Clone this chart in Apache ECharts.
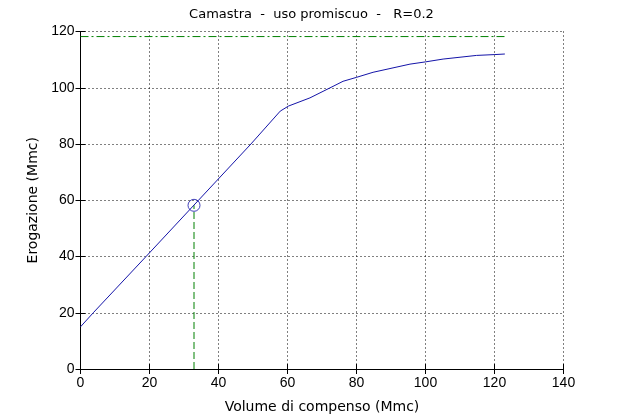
<!DOCTYPE html>
<html>
<head>
<meta charset="utf-8">
<script src="https://cdn.jsdelivr.net/npm/echarts@6/dist/echarts.min.js"></script>
<style>html,body{margin:0;padding:0;background:#fff;}#c{width:623px;height:419px;}</style>
</head>
<body>
<div id="c"></div>
<script>
var curveX = [0, 3.7, 19, 34.2, 49.4, 57.9, 60.3, 66.5, 73.2, 76.1, 80, 84.8, 95.5, 100, 105.1, 114.8, 120.1, 123];
var curveY = [15, 20, 40, 60, 80, 91.7, 93.5, 96.4, 100.5, 102.3, 103.7, 105.5, 108.4, 109.2, 110.2, 111.5, 111.8, 112];
var pointX = 32.9, pointY = 58.2;
var hLineY = 118.2, hLineXEnd = 123;
var xTicks = [0, 20, 40, 60, 80, 100, 120, 140];
var yTicks = [0, 20, 40, 60, 80, 100, 120];

var font = 'Liberation Sans, Arial, sans-serif';
var font2 = 'DejaVu Sans, sans-serif';
var chart = echarts.init(document.getElementById('c'), null, {renderer: 'canvas'});
var curve = curveX.map(function (x, i) { return [x, curveY[i]]; });
var axisBase = {
  min: 0, interval: 20,
  axisLine: {show: true, lineStyle: {color: '#000', width: 1}},
  axisTick: {show: true, inside: true, length: 5, lineStyle: {color: '#000'}},
  splitLine: {show: false}
};
chart.setOption({
  backgroundColor: '#fff',
  animation: false,
  title: {
    text: 'Camastra  -  uso promiscuo  -   R=0.2',
    left: 'center', top: 3,
    textStyle: {fontFamily: font2, fontSize: 13, fontWeight: 'normal', color: '#000'}
  },
  grid: {left: 80.5, top: 31.5, right: 59.5, bottom: 47, containLabel: false},
  xAxis: [
    Object.assign({}, axisBase, {
      type: 'value', max: 140, position: 'bottom',
      name: 'Volume di compenso (Mmc)', nameLocation: 'middle', nameGap: 31,
      nameTextStyle: {fontFamily: font2, fontSize: 14, color: '#000'},
      axisLabel: {fontFamily: font, fontSize: 14, color: '#000', margin: 7},
      splitLine: {show: true, lineStyle: {color: '#000', type: [1, 3], width: 1}}
    }),
    Object.assign({}, axisBase, {
      type: 'value', max: 140, position: 'top',
      axisLabel: {show: false}
    })
  ],
  yAxis: [
    Object.assign({}, axisBase, {
      type: 'value', max: 120, position: 'left',
      name: 'Erogazione (Mmc)', nameLocation: 'middle', nameGap: 40,
      nameTextStyle: {fontFamily: font2, fontSize: 14, color: '#000'},
      axisLabel: {fontFamily: font, fontSize: 14, color: '#000', margin: 6},
      splitLine: {show: true, lineStyle: {color: '#000', type: [1, 3], width: 1}}
    }),
    Object.assign({}, axisBase, {
      type: 'value', max: 120, position: 'right',
      axisLabel: {show: false}
    })
  ],
  series: [
    {
      type: 'line', data: [[0, hLineY], [hLineXEnd, hLineY]],
      showSymbol: false, symbol: 'none',
      lineStyle: {color: '#008000', width: 1, type: [8, 3, 2, 3]}
    },
    {
      type: 'line', data: [[pointX, 0], [pointX, pointY]],
      showSymbol: false, symbol: 'none',
      lineStyle: {color: '#008000', width: 1, type: [7, 3]}
    },
    {
      type: 'line', data: curve,
      showSymbol: false, symbol: 'none',
      lineStyle: {color: '#1414a8', width: 1}
    },
    {
      type: 'scatter', data: [[pointX, pointY]],
      symbol: 'circle', symbolSize: 12,
      itemStyle: {color: 'rgba(0,0,0,0)', borderColor: '#1414a8', borderWidth: 1}
    }
  ]
});
</script>
</body>
</html>
